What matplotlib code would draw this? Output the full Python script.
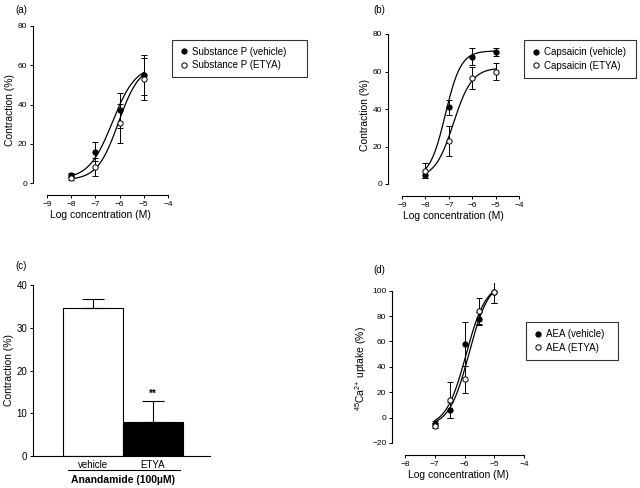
import numpy as np
import matplotlib
matplotlib.use("Agg")
import matplotlib.pyplot as plt

plt.rcParams['font.family'] = ['Liberation Sans', 'DejaVu Sans']
plt.rcParams['mathtext.fontset'] = 'custom'
plt.rcParams['mathtext.rm'] = 'Liberation Sans'
plt.rcParams['mathtext.it'] = 'Liberation Sans:italic'

W, H = 640, 488

# panel (a): substance P
a_x = [-8, -7, -6, -5]
a_veh = [4, 16, 37, 55]
a_veh_err = [1, 5, 9, 10]
a_etya = [2.5, 8, 30.5, 53]
a_etya_err = [1, 4.5, 10, 10.5]
a_veh_fit = (2, 60, -6.3, 0.9)      # bottom, top, logEC50, hill
a_etya_fit = (1.5, 60, -6.05, 1.0)

# panel (b): capsaicin
b_x = [-8, -7, -6, -5]
b_veh = [5, 41, 68, 70.5]
b_veh_err = [2, 4, 4.5, 2]
b_etya = [7, 23, 56.5, 60]
b_etya_err = [4, 8, 6, 4.5]
b_veh_fit = (3, 71, -7.15, 1.3)
b_etya_fit = (3, 62, -6.8, 1.1)

# panel (c): anandamide
c_labels = ['vehicle', 'ETYA']
c_vals = [34.7, 7.9]
c_err = [2.1, 5.0]

# panel (d): 45Ca uptake
d_x = [-7, -6.5, -6, -5.5, -5]
d_veh = [-5, 6, 58, 78, 99]
d_veh_err = [2, 6, 17, 5, 9]
d_etya = [-6.5, 14, 30, 84, 99]
d_etya_err = [2, 14, 11, 10, 9]
d_veh_fit = (-7, 106, -5.95, 1.3)
d_etya_fit = (-7, 108, -5.85, 1.3)


def px_axes(fig, x0, x1, y_top, y_bot):
    return fig.add_axes([x0 / W, 1 - y_bot / H, (x1 - x0) / W, (y_bot - y_top) / H])


def sigmoid(x, p):
    bottom, top, ec50, hill = p
    return bottom + (top - bottom) / (1 + 10 ** ((ec50 - x) * hill))


def style_axes(ax, xticks, yticks):
    ax.spines['top'].set_visible(False)
    ax.spines['right'].set_visible(False)
    ax.spines['bottom'].set_bounds(xticks[0], xticks[-1])
    ax.spines['left'].set_bounds(yticks[0], yticks[-1])
    ax.set_xticks(xticks)
    ax.set_yticks(yticks)
    ax.tick_params(direction='out', length=2.5, width=0.7, labelsize=6, pad=1.5)
    for s in ax.spines.values():
        s.set_linewidth(0.8)
    ax.patch.set_visible(False)


def dose_panel(ax, x, veh, veh_err, etya, etya_err, veh_fit, etya_fit, labels):
    xs = np.linspace(x[0], x[-1], 200)
    ax.plot(xs, sigmoid(xs, veh_fit), color='black', lw=0.9)
    ax.plot(xs, sigmoid(xs, etya_fit), color='black', lw=0.9)
    ax.errorbar(x, veh, yerr=veh_err, fmt='none', ecolor='black',
                capsize=2, elinewidth=0.7, capthick=0.7)
    ax.errorbar(x, etya, yerr=etya_err, fmt='none', ecolor='black',
                capsize=2, elinewidth=0.7, capthick=0.7)
    ax.plot(x, veh, 'o', color='black', mfc='black', ms=3.8, mew=0.7, ls='none', label=labels[0])
    ax.plot(x, etya, 'o', color='black', mfc='white', ms=3.8, mew=0.7, ls='none', label=labels[1])
    ax.set_xlabel('Log concentration (M)', fontsize=7.5, labelpad=2)


def legend_box(fig, ax, x0, x1, y0, y1):
    leg = ax.legend(loc='center', bbox_to_anchor=(x0 / W, 1 - y1 / H, (x1 - x0) / W, (y1 - y0) / H),
                    bbox_transform=fig.transFigure, fontsize=7, frameon=True, fancybox=False,
                    edgecolor='black', handletextpad=0.4, handlelength=1.0, borderpad=0.7,
                    labelspacing=0.35, mode='expand', borderaxespad=0)
    leg.get_frame().set_linewidth(0.8)
    return leg


fig = plt.figure(figsize=(6.4, 4.88), dpi=100)

# (a)
ax = px_axes(fig, 33, 168, 26, 195)
ax.set_xlim(-9.58, -4)
ax.set_ylim(-6.1, 80)
dose_panel(ax, a_x, a_veh, a_veh_err, a_etya, a_etya_err, a_veh_fit, a_etya_fit,
           ['Substance P (vehicle)', 'Substance P (ETYA)'])
style_axes(ax, [-9, -8, -7, -6, -5, -4], [0, 20, 40, 60, 80])
ax.set_ylabel('Contraction (%)', fontsize=7.5, labelpad=2)
legend_box(fig, ax, 172, 307, 40, 77)
fig.text(15 / W, 1 - 10 / H, '(a)', fontsize=7, va='center')

# (b)
ax = px_axes(fig, 388, 519, 34, 196)
ax.set_xlim(-9.6, -4)
ax.set_ylim(-6.4, 80)
dose_panel(ax, b_x, b_veh, b_veh_err, b_etya, b_etya_err, b_veh_fit, b_etya_fit,
           ['Capsaicin (vehicle)', 'Capsaicin (ETYA)'])
style_axes(ax, [-9, -8, -7, -6, -5, -4], [0, 20, 40, 60, 80])
ax.set_ylabel('Contraction (%)', fontsize=7.5, labelpad=2)
legend_box(fig, ax, 524, 636, 41, 77)
fig.text(373 / W, 1 - 10 / H, '(b)', fontsize=7, va='center')

# (c)
ax = px_axes(fig, 33, 210, 283, 456)
ax.set_xlim(-1.0, 1.95)
ax.set_ylim(0, 40.5)
ax.bar([0], [c_vals[0]], width=1.0, color='white', edgecolor='black', lw=0.8,
       yerr=[[0], [c_err[0]]], error_kw=dict(lw=0.8, capsize=8, capthick=0.8))
ax.bar([1], [c_vals[1]], width=1.0, color='black', edgecolor='black', lw=0.8,
       yerr=[[0], [c_err[1]]], error_kw=dict(lw=0.8, capsize=8, capthick=0.8, ecolor='black'))
ax.text(1, c_vals[1] + c_err[1] + 0.5, '**', ha='center', va='bottom', fontsize=7, fontweight='bold')
ax.spines['top'].set_visible(False)
ax.spines['right'].set_visible(False)
ax.spines['left'].set_bounds(0, 40)
ax.set_yticks([0, 10, 20, 30, 40])
ax.set_xticks([0, 1])
ax.set_xticklabels(c_labels)
ax.tick_params(axis='y', direction='out', length=2.5, width=0.7, labelsize=7, pad=1.5)
ax.tick_params(axis='x', length=0, labelsize=7, pad=3)
for s in ax.spines.values():
    s.set_linewidth(0.8)
ax.set_ylabel('Contraction (%)', fontsize=7.5, labelpad=2)
ax.plot([-0.42, 1.45], [-3.2, -3.2], color='black', lw=0.8, clip_on=False)
ax.text(0.5, -5.6, 'Anandamide (100\u00b5M)', ha='center', va='center', fontsize=7.5,
        fontweight='bold', transform=ax.transData)
fig.text(15 / W, 1 - 266 / H, '(c)', fontsize=7, va='center')

# (d)
ax = px_axes(fig, 392, 524, 283, 455)
ax.set_xlim(-8.44, -4)
ax.set_ylim(-29.5, 106)
dose_panel(ax, d_x, d_veh, d_veh_err, d_etya, d_etya_err, d_veh_fit, d_etya_fit,
           ['AEA (vehicle)', 'AEA (ETYA)'])
style_axes(ax, [-8, -7, -6, -5, -4], [-20, 0, 20, 40, 60, 80, 100])
ax.set_ylabel('$^{45}$Ca$^{2{+}}$ uptake (%)', fontsize=7.5, labelpad=2)
legend_box(fig, ax, 526, 618, 321, 361)
fig.text(373 / W, 1 - 270 / H, '(d)', fontsize=7, va='center')

fig.savefig('out.png', dpi=100)
